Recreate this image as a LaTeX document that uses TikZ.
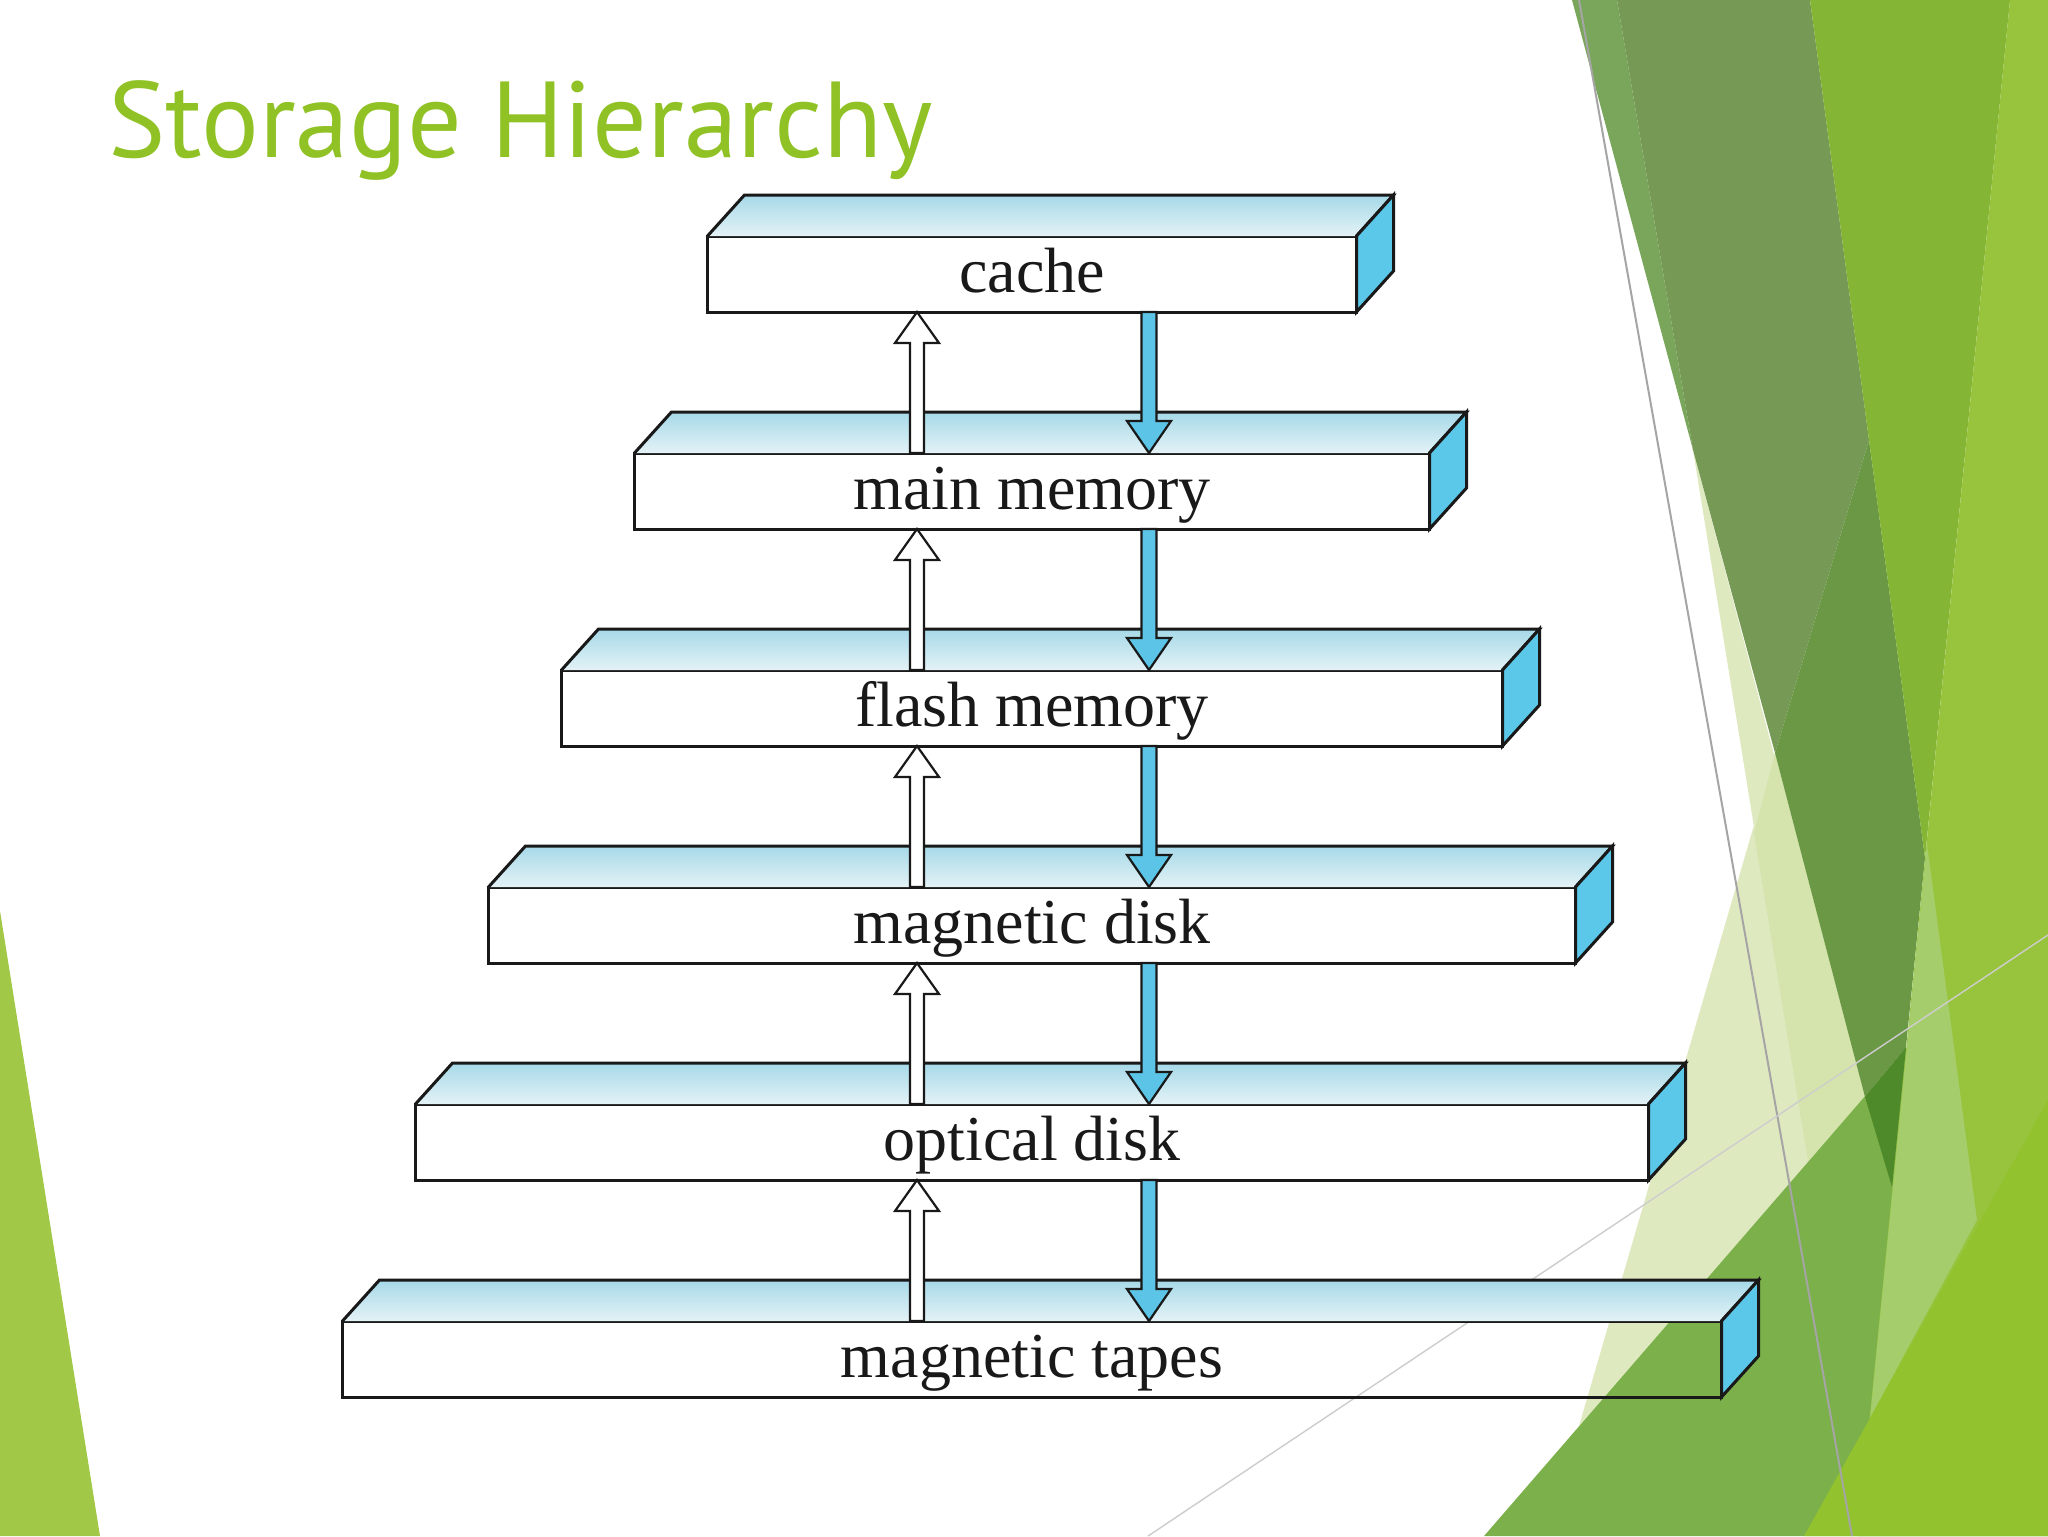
\documentclass[tikz,border=0pt]{standalone}
\usepackage{fontspec}
\newfontfamily\titlefont{PT Sans}
\newfontfamily\boxfont{Liberation Serif}
\usetikzlibrary{calc}
\definecolor{titlegreen}{RGB}{144,194,38}
\definecolor{leftgreen}{RGB}{161,201,71}
\definecolor{pale}{RGB}{223,233,192}
\definecolor{paleB}{RGB}{212,228,172}
\definecolor{medgreen}{RGB}{124,176,74}
\definecolor{oliveA}{RGB}{122,166,92}
\definecolor{oliveB}{RGB}{118,154,86}
\definecolor{oliveC}{RGB}{106,152,69}
\definecolor{deepgreen}{RGB}{78,138,42}
\definecolor{brightgreen}{RGB}{133,181,53}
\definecolor{rightgreen}{RGB}{151,196,60}
\definecolor{wedgegreen}{RGB}{166,205,107}
\definecolor{yellowgreen}{RGB}{146,194,46}
\definecolor{lineA}{RGB}{165,165,165}
\definecolor{lineB}{RGB}{205,205,205}
\definecolor{topA}{RGB}{166,217,232}
\definecolor{topB}{RGB}{228,242,246}
\definecolor{sidecyan}{RGB}{92,200,233}
\definecolor{arrowcyan}{RGB}{92,196,230}
\definecolor{inkc}{RGB}{25,25,25}
\tikzset{
  front/.style={draw=inkc, line width=1.5pt, outer sep=0pt, inner sep=0pt,
    minimum height=38pt, text height=22pt, text depth=4pt,
    font=\boxfont\fontsize{32}{38}\selectfont, text=inkc},
  facetop/.style={top color=topA, bottom color=topB},
  faceline/.style={draw=inkc, line width=1.5pt, line join=miter},
  sideface/.style={fill=sidecyan, draw=inkc, line width=1.5pt},
  uparr/.style={fill=white, draw=inkc, line width=1.1pt, line join=miter},
  downarr/.style={fill=arrowcyan, draw=inkc, line width=1.1pt, line join=miter},
}
\newcommand\layerbox[4]{%
  \node[front, minimum width=#3*0.5pt] (#1) at (1032,#2) {#4};
  \shade[facetop] (#1.north west) -- ++(37,-41) -- ($(#1.north east)+(37,-41)$) -- (#1.north east) -- cycle;
  \draw[faceline] (#1.north west) -- ++(37,-41) -- ($(#1.north east)+(37,-41)$) -- (#1.north east);
  \draw[sideface] (#1.north east) -- ++(37,-41) -- ++(0,76) -- (#1.south east) -- cycle;
}
\newcommand\uplink[2]{% #1 lower node, #2 upper node
  \draw[uparr] ($(#1.north)+(-122,0)$) -- ($(#2.south)+(-122,31)$) -- ($(#2.south)+(-137,31)$)
    -- ($(#2.south)+(-115,0)$) -- ($(#2.south)+(-93,31)$) -- ($(#2.south)+(-108,31)$)
    -- ($(#1.north)+(-108,0)$) -- cycle;
}
\newcommand\downlink[2]{% #1 upper node, #2 lower node
  \draw[downarr] ($(#1.south)+(109.5,0)$) -- ($(#2.north)+(109.5,-32)$) -- ($(#2.north)+(95,-32)$)
    -- ($(#2.north)+(117,0)$) -- ($(#2.north)+(139,-32)$) -- ($(#2.north)+(124.5,-32)$)
    -- ($(#1.south)+(124.5,0)$) -- cycle;
}
\begin{document}
\begin{tikzpicture}[x=0.5pt,y=-0.5pt]
\useasboundingbox (0,0) rectangle (2048,1536);
% background
\fill[white] (0,0) rectangle (2048,1536);
\fill[leftgreen] (0,911) -- (100,1536) -- (0,1536) -- cycle;
\fill[pale] (1693,450) -- (1865,1097) -- (1808,1161) -- cycle;
\fill[pale] (1775,753) -- (1865,1097) -- (1579,1426) -- cycle;
\fill[paleB] (1775,753) -- (1754,833) -- (1808,1161) -- (1865,1097) -- cycle;
\fill[medgreen] (1484,1536) -- (2048,885) -- (2048,1536) -- cycle;
\fill[oliveA] (1572,0) -- (1617,0) -- (1693,450) -- cycle;
\fill[oliveB] (1617,0) -- (1810,0) -- (1869,440) -- (1775,753) -- (1693,450) -- cycle;
\fill[oliveC] (1869,440) -- (1925,858) -- (1906,1047) -- (1865,1097) -- (1775,753) -- cycle;
\fill[deepgreen] (1865,1097) -- (1906,1047) -- (1892,1187) -- cycle;
\fill[brightgreen] (1810,0) -- (2010,0) -- (1925,858) -- cycle;
\fill[rightgreen] (2010,0) -- (2048,0) -- (2048,1536) -- (1858,1536) -- cycle;
\fill[wedgegreen] (1927,844) -- (1977,1220) -- (1870,1418) -- cycle;
\fill[yellowgreen] (1804,1536) -- (2048,1100) -- (2048,1536) -- cycle;
\draw[lineA, line width=1pt] (1579,0) -- (1852,1536);
\draw[lineB, line width=0.7pt] (1148,1536) -- (2048,935);
% title
\node[anchor=base west, inner sep=0pt, font=\titlefont\fontsize{54}{60}\selectfont, text=titlegreen] (title) at (108,157) {Storage Hierarchy};
% boxes
\layerbox{cache}{274}{649}{cache}
\layerbox{main}{491}{795}{main memory}
\layerbox{flash}{708}{941}{flash memory}
\layerbox{disk}{925}{1087}{magnetic disk}
\layerbox{optical}{1142}{1233}{optical disk}
\layerbox{tapes}{1359}{1379}{magnetic tapes}
% arrows
\uplink{main}{cache}
\uplink{flash}{main}
\uplink{disk}{flash}
\uplink{optical}{disk}
\uplink{tapes}{optical}
\downlink{cache}{main}
\downlink{main}{flash}
\downlink{flash}{disk}
\downlink{disk}{optical}
\downlink{optical}{tapes}
\end{tikzpicture}
\end{document}
